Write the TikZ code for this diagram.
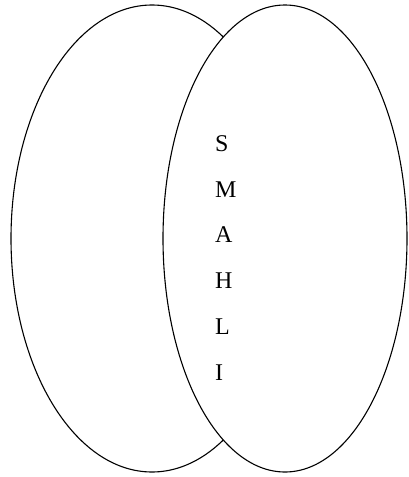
\documentclass[tikz,border=0pt]{standalone}
\usepackage{fontspec}
\setmainfont{Liberation Serif}
\usetikzlibrary{shapes.geometric}
\tikzset{
  setblob/.style={draw, fill=white, ellipse, line width=1.1pt, inner sep=0pt},
  letter/.style={font=\fontsize{24}{28}\selectfont, anchor=base west, inner sep=0pt}
}
\begin{document}
\begin{tikzpicture}[x=1pt, y=-1pt]
  \useasboundingbox (0,0) rectangle (408,477);
  % the two sets, the right one covers the left
  \node[setblob, minimum width=282pt, minimum height=467pt] (leftset) at (152,238.5) {};
  \node[setblob, minimum width=244pt, minimum height=467pt] (rightset) at (285,238.5) {};
  % letters in the overlap
  \foreach \ch [count=\i from 0] in {S,M,A,H,L,I}
    \node[letter] (let\i) at (215,{151.5+45.7*\i}) {\ch};
\end{tikzpicture}
\end{document}
